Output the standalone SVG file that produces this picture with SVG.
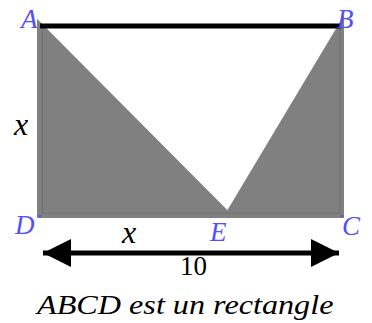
<svg xmlns="http://www.w3.org/2000/svg" width="372" height="323" viewBox="0 0 372 323">
<style>
.pt{font-family:"Liberation Serif","Times New Roman",serif;font-style:italic;font-size:27px;fill:#5050ff}
.lb{font-family:"Liberation Serif","Times New Roman",serif;font-style:italic;font-size:32px;fill:#000}
.sh{fill:#808080;stroke:#808080;stroke-width:6;stroke-linejoin:miter}
</style>
<defs>
<marker id="ah" viewBox="0 0 10 10" refX="10" refY="5" markerWidth="6.6" markerHeight="5.6" orient="auto-start-reverse" markerUnits="strokeWidth">
<path d="M0,0L10,5L0,10Z" fill="#000"/>
</marker>
</defs>
<g id="shade-left"><polygon class="sh" points="40,26 40,215 228,215"/></g>
<g id="shade-right"><polygon class="sh" points="341,26 341,215 228,215"/></g>
<g id="rect"><rect x="42.5" y="26" width="297.5" height="187" fill="none" stroke="#6e6e6e" stroke-width="1"/></g>
<g id="connectors">
<line x1="40" y1="26" x2="341" y2="26" stroke="#000" stroke-width="5"/>
<line x1="43" y1="253" x2="339" y2="253" stroke="#000" stroke-width="5" marker-start="url(#ah)" marker-end="url(#ah)"/>
</g>
<g id="points">
<circle cx="40" cy="216" r="1.3" fill="#5050ff"/>
<circle cx="342" cy="216" r="1.3" fill="#5050ff"/>
</g>
<g id="labels">
<text class="pt" x="21" y="28">A</text>
<text class="pt" x="337" y="28">B</text>
<text class="pt" x="15" y="234">D</text>
<text class="pt" x="210" y="241">E</text>
<text class="pt" x="342" y="235">C</text>
<text class="lb" x="14" y="135">x</text>
<text class="lb" x="122" y="243">x</text>
<text x="180" y="275" style="font-family:'Liberation Serif',serif;font-size:27px">10</text>
<text transform="translate(37,314) scale(1.15,1)" x="0" y="0" style="font-family:'Liberation Serif',serif;font-style:italic;font-size:28px">ABCD est un rectangle</text>
</g>
</svg>
